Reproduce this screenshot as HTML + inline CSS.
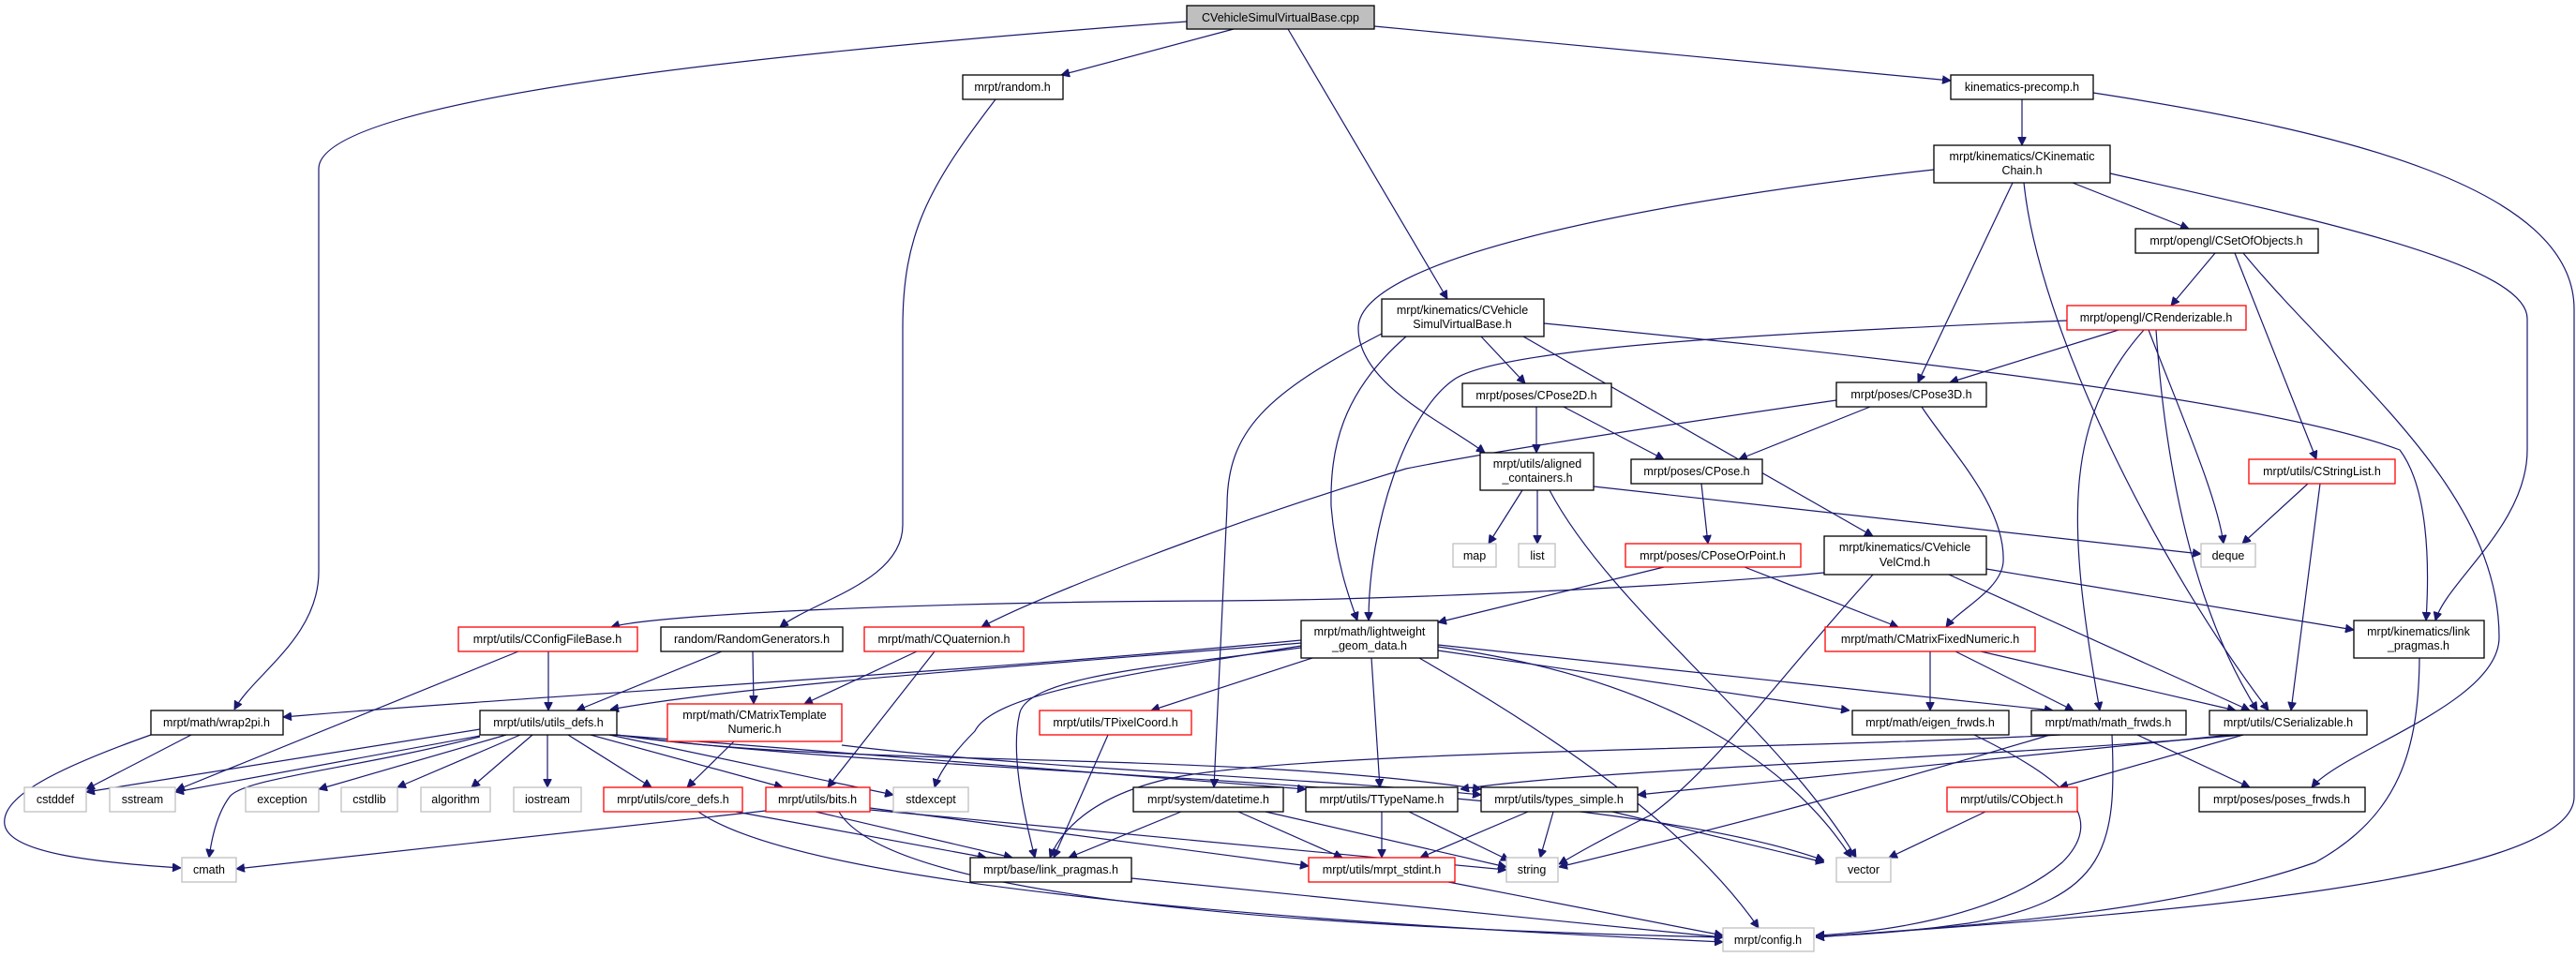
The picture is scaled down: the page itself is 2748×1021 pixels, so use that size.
<!DOCTYPE html>
<html><head><meta charset="utf-8"><style>
html,body{margin:0;padding:0;background:#fff;}
svg{display:block;}
text{font-family:"Liberation Sans",sans-serif;font-size:12.5px;fill:#000;text-anchor:middle;}
.n rect{fill:#fff;stroke:#000;stroke-width:1.3;}
.r rect{fill:#fff;stroke:#ff0000;stroke-width:1.3;}
.g rect{fill:#fff;stroke:#bfbfbf;stroke-width:1.3;}
.e path{fill:none;stroke:#191970;stroke-width:1.2;marker-end:url(#a);}
</style></head><body>
<svg width="2748" height="1021" viewBox="0 0 2748 1021" xmlns="http://www.w3.org/2000/svg">
<defs><marker id="a" viewBox="0 0 10 10" refX="10" refY="5" markerWidth="9" markerHeight="9" markerUnits="userSpaceOnUse" orient="auto"><path d="M0,0 L10,5 L0,10 z" fill="#191970" stroke="#191970"/></marker></defs>
<g class="e">
<path d="M1266,23 C900,50 340,100 340,180 L340,610 C340,680 270,720 250,757"/>
<path d="M1316,31 L1132,80"/>
<path d="M1374,31 L1544,319"/>
<path d="M1466,28 L2081,86"/>
<path d="M1062,106 C990,200 963,250 963,350 L963,560 C963,620 870,640 832,669"/>
<path d="M2157,106 L2157,155"/>
<path d="M2233,99 C2500,140 2746,200 2746,330 L2746,850 C2746,950 2200,980 1937,1000"/>
<path d="M2063,181 C1800,210 1449,270 1449,350 C1449,410 1540,450 1584,483"/>
<path d="M2147,195 L2046,408"/>
<path d="M2159,195 C2175,350 2300,600 2420,758"/>
<path d="M2211,195 L2335,244"/>
<path d="M2251,185 C2450,230 2696,280 2696,340 L2696,480 C2696,560 2610,620 2598,662"/>
<path d="M2363,270 L2316,326"/>
<path d="M2384,270 L2471,490"/>
<path d="M2393,270 C2500,400 2666,520 2666,680 C2666,750 2500,800 2466,840"/>
<path d="M2260,352 L2080,408"/>
<path d="M2205,342 C1900,355 1600,370 1551,405 C1500,440 1460,560 1460,662"/>
<path d="M2292,352 C2330,450 2365,530 2372,580"/>
<path d="M2300,352 C2310,500 2340,650 2408,758"/>
<path d="M2287,352 C2200,450 2205,560 2240,758"/>
<path d="M2462,516 L2392,580"/>
<path d="M2475,516 L2444,758"/>
<path d="M1580,359 L1627,409"/>
<path d="M1474,356 C1350,420 1309,460 1309,540 L1295,840"/>
<path d="M1500,359 C1430,420 1419,480 1420,540 C1425,600 1440,640 1448,662"/>
<path d="M1625,359 L1998,572"/>
<path d="M1647,345 C1900,370 2400,420 2560,480 C2590,520 2592,600 2588,662"/>
<path d="M1639,434 L1639,483"/>
<path d="M1668,434 L1775,490"/>
<path d="M1995,434 L1855,490"/>
<path d="M1959,427 C1800,450 1600,480 1500,500 C1300,560 1100,640 1047,669"/>
<path d="M2050,434 C2080,480 2140,540 2137,600 C2134,630 2090,650 2076,669"/>
<path d="M1624,523 L1588,580"/>
<path d="M1640,523 L1640,580"/>
<path d="M1700,519 L2348,591"/>
<path d="M1653,523 C1720,650 1900,780 1980,915"/>
<path d="M1815,516 L1822,580"/>
<path d="M1775,605 L1534,664"/>
<path d="M1861,605 L2025,669"/>
<path d="M1946,611 C1800,625 1500,640 1300,641 C1000,642 700,655 652,669"/>
<path d="M1998,613 C1900,720 1830,820 1760,870 C1700,900 1680,912 1663,922"/>
<path d="M2079,613 L2400,758"/>
<path d="M2119,607 L2511,672"/>
<path d="M585,695 L585,758"/>
<path d="M553,695 L188,843"/>
<path d="M770,695 L615,758"/>
<path d="M803,695 L804,751"/>
<path d="M978,695 L858,751"/>
<path d="M997,695 L883,840"/>
<path d="M1388,683 C1000,720 600,740 302,765"/>
<path d="M1388,686 C1100,710 800,730 651,757"/>
<path d="M1400,702 L1228,758"/>
<path d="M1388,689 C1200,720 1060,740 1040,780 C1010,810 1000,830 997,840"/>
<path d="M1388,691 C1250,710 1100,720 1088,760 C1078,800 1090,860 1104,915"/>
<path d="M1463,702 L1472,840"/>
<path d="M1534,690 C1750,720 1900,800 1975,915"/>
<path d="M1514,702 C1650,780 1800,880 1876,990"/>
<path d="M1534,694 L1973,758"/>
<path d="M1534,688 L2190,758"/>
<path d="M512,778 L92,845"/>
<path d="M512,785 L187,845"/>
<path d="M540,784 L340,842"/>
<path d="M555,784 L424,840"/>
<path d="M568,784 L503,840"/>
<path d="M584,784 L584,840"/>
<path d="M512,786 C380,820 260,830 245,850 C230,870 225,900 223,915"/>
<path d="M606,784 L695,840"/>
<path d="M630,784 L835,840"/>
<path d="M650,784 L953,848"/>
<path d="M655,784 L1393,842"/>
<path d="M658,784 C900,820 1300,800 1580,842"/>
<path d="M658,784 C1000,830 1700,830 1946,918"/>
<path d="M204,784 L92,842"/>
<path d="M161,784 C60,820 0,850 5,880 C10,910 100,920 193,926"/>
<path d="M783,791 L733,840"/>
<path d="M898,795 C1100,820 1400,830 1580,848"/>
<path d="M745,866 C850,940 1300,980 1838,1005"/>
<path d="M785,866 L1052,915"/>
<path d="M817,865 L252,927"/>
<path d="M870,866 L1080,915"/>
<path d="M928,862 L1396,924"/>
<path d="M928,864 L1607,928"/>
<path d="M895,866 C950,960 1400,990 1838,1000"/>
<path d="M1260,866 L1140,915"/>
<path d="M1321,866 L1432,915"/>
<path d="M1350,866 L1607,925"/>
<path d="M1474,866 L1474,915"/>
<path d="M1503,866 L1610,918"/>
<path d="M1630,866 L1515,915"/>
<path d="M1657,866 L1643,915"/>
<path d="M1720,866 L1946,920"/>
<path d="M1182,784 L1124,915"/>
<path d="M1545,941 L1838,998"/>
<path d="M1207,937 L1838,1000"/>
<path d="M2059,695 L2059,758"/>
<path d="M2086,695 L2212,758"/>
<path d="M2113,695 L2385,758"/>
<path d="M2106,784 C2200,830 2250,870 2200,920 C2130,980 2000,995 1937,998"/>
<path d="M2253,784 C2258,900 2250,960 2100,985 C2030,995 1970,998 1937,999"/>
<path d="M2280,784 L2400,840"/>
<path d="M2198,784 C1900,800 1400,800 1250,830 C1160,850 1130,890 1120,915"/>
<path d="M2187,784 C2000,840 1850,880 1663,925"/>
<path d="M2393,784 L2197,840"/>
<path d="M2393,784 C2100,810 1700,820 1558,842"/>
<path d="M2380,784 L1747,848"/>
<path d="M2118,866 L2015,915"/>
<path d="M2581,702 C2580,800 2560,870 2470,920 C2300,980 2050,990 1937,1000"/>
</g>
<g class="n"><rect x="1266" y="6" width="200" height="25" style="fill:#bfbfbf"/><text x="1366" y="23">CVehicleSimulVirtualBase.cpp</text></g>
<g class="n"><rect x="1027" y="80" width="107" height="26"/><text x="1080" y="97">mrpt/random.h</text></g>
<g class="n"><rect x="2081" y="80" width="152" height="26"/><text x="2157" y="97">kinematics-precomp.h</text></g>
<g class="n"><rect x="2063" y="155" width="188" height="40"/><text x="2157" y="171">mrpt/kinematics/CKinematic</text><text x="2157" y="186">Chain.h</text></g>
<g class="n"><rect x="2278" y="244" width="195" height="26"/><text x="2375" y="261">mrpt/opengl/CSetOfObjects.h</text></g>
<g class="r"><rect x="2205" y="326" width="191" height="26"/><text x="2300" y="343">mrpt/opengl/CRenderizable.h</text></g>
<g class="n"><rect x="1474" y="319" width="173" height="40"/><text x="1560" y="335">mrpt/kinematics/CVehicle</text><text x="1560" y="350">SimulVirtualBase.h</text></g>
<g class="n"><rect x="1560" y="409" width="159" height="25"/><text x="1639" y="426">mrpt/poses/CPose2D.h</text></g>
<g class="n"><rect x="1959" y="408" width="160" height="26"/><text x="2039" y="425">mrpt/poses/CPose3D.h</text></g>
<g class="n"><rect x="1579" y="483" width="121" height="40"/><text x="1640" y="499">mrpt/utils/aligned</text><text x="1640" y="514">_containers.h</text></g>
<g class="n"><rect x="1740" y="490" width="140" height="26"/><text x="1810" y="507">mrpt/poses/CPose.h</text></g>
<g class="r"><rect x="2399" y="490" width="156" height="26"/><text x="2477" y="507">mrpt/utils/CStringList.h</text></g>
<g class="g"><rect x="1550" y="580" width="46" height="25"/><text x="1573" y="597">map</text></g>
<g class="g"><rect x="1620" y="580" width="39" height="25"/><text x="1640" y="597">list</text></g>
<g class="r"><rect x="1734" y="580" width="187" height="25"/><text x="1827" y="597">mrpt/poses/CPoseOrPoint.h</text></g>
<g class="n"><rect x="1946" y="572" width="173" height="41"/><text x="2032" y="588">mrpt/kinematics/CVehicle</text><text x="2032" y="604">VelCmd.h</text></g>
<g class="g"><rect x="2348" y="580" width="58" height="25"/><text x="2377" y="597">deque</text></g>
<g class="r"><rect x="489" y="669" width="191" height="26"/><text x="584" y="686">mrpt/utils/CConfigFileBase.h</text></g>
<g class="n"><rect x="705" y="669" width="194" height="26"/><text x="802" y="686">random/RandomGenerators.h</text></g>
<g class="r"><rect x="922" y="669" width="170" height="26"/><text x="1007" y="686">mrpt/math/CQuaternion.h</text></g>
<g class="n"><rect x="1388" y="662" width="146" height="40"/><text x="1461" y="678">mrpt/math/lightweight</text><text x="1461" y="693">_geom_data.h</text></g>
<g class="r"><rect x="1947" y="669" width="224" height="26"/><text x="2059" y="686">mrpt/math/CMatrixFixedNumeric.h</text></g>
<g class="n"><rect x="2511" y="662" width="139" height="40"/><text x="2580" y="678">mrpt/kinematics/link</text><text x="2580" y="693">_pragmas.h</text></g>
<g class="n"><rect x="161" y="758" width="141" height="26"/><text x="231" y="775">mrpt/math/wrap2pi.h</text></g>
<g class="n"><rect x="512" y="758" width="146" height="26"/><text x="585" y="775">mrpt/utils/utils_defs.h</text></g>
<g class="r"><rect x="712" y="751" width="186" height="40"/><text x="805" y="767">mrpt/math/CMatrixTemplate</text><text x="805" y="782">Numeric.h</text></g>
<g class="r"><rect x="1109" y="758" width="162" height="26"/><text x="1190" y="775">mrpt/utils/TPixelCoord.h</text></g>
<g class="n"><rect x="1976" y="758" width="167" height="26"/><text x="2059" y="775">mrpt/math/eigen_frwds.h</text></g>
<g class="n"><rect x="2167" y="758" width="165" height="26"/><text x="2249" y="775">mrpt/math/math_frwds.h</text></g>
<g class="n"><rect x="2357" y="758" width="168" height="26"/><text x="2441" y="775">mrpt/utils/CSerializable.h</text></g>
<g class="g"><rect x="26" y="840" width="66" height="26"/><text x="59" y="857">cstddef</text></g>
<g class="g"><rect x="117" y="840" width="70" height="26"/><text x="152" y="857">sstream</text></g>
<g class="g"><rect x="262" y="840" width="78" height="26"/><text x="301" y="857">exception</text></g>
<g class="g"><rect x="364" y="840" width="60" height="26"/><text x="394" y="857">cstdlib</text></g>
<g class="g"><rect x="449" y="840" width="74" height="26"/><text x="486" y="857">algorithm</text></g>
<g class="g"><rect x="548" y="840" width="72" height="26"/><text x="584" y="857">iostream</text></g>
<g class="r"><rect x="644" y="840" width="148" height="26"/><text x="718" y="857">mrpt/utils/core_defs.h</text></g>
<g class="r"><rect x="817" y="840" width="111" height="26"/><text x="872" y="857">mrpt/utils/bits.h</text></g>
<g class="g"><rect x="953" y="840" width="80" height="26"/><text x="993" y="857">stdexcept</text></g>
<g class="n"><rect x="1209" y="840" width="160" height="26"/><text x="1289" y="857">mrpt/system/datetime.h</text></g>
<g class="n"><rect x="1393" y="840" width="162" height="26"/><text x="1474" y="857">mrpt/utils/TTypeName.h</text></g>
<g class="n"><rect x="1580" y="840" width="167" height="26"/><text x="1663" y="857">mrpt/utils/types_simple.h</text></g>
<g class="r"><rect x="2077" y="840" width="139" height="26"/><text x="2146" y="857">mrpt/utils/CObject.h</text></g>
<g class="n"><rect x="2346" y="840" width="177" height="26"/><text x="2434" y="857">mrpt/poses/poses_frwds.h</text></g>
<g class="g"><rect x="194" y="915" width="58" height="26"/><text x="223" y="932">cmath</text></g>
<g class="n"><rect x="1035" y="915" width="172" height="26"/><text x="1121" y="932">mrpt/base/link_pragmas.h</text></g>
<g class="r"><rect x="1396" y="915" width="156" height="26"/><text x="1474" y="932">mrpt/utils/mrpt_stdint.h</text></g>
<g class="g"><rect x="1607" y="915" width="55" height="26"/><text x="1634" y="932">string</text></g>
<g class="g"><rect x="1959" y="915" width="58" height="26"/><text x="1988" y="932">vector</text></g>
<g class="g"><rect x="1838" y="990" width="97" height="25"/><text x="1886" y="1007">mrpt/config.h</text></g>
</svg>
</body></html>
